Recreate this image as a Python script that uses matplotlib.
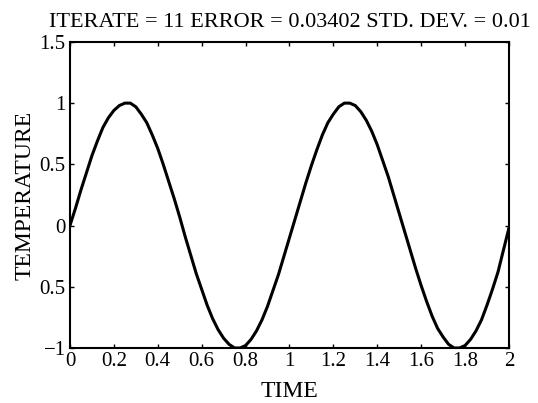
import numpy as np
import matplotlib
matplotlib.use("Agg")
import matplotlib.pyplot as plt

time = [0.000, 0.025, 0.050, 0.075, 0.100, 0.125, 0.150, 0.175, 0.200, 0.225,
        0.250, 0.275, 0.300, 0.325, 0.350, 0.375, 0.400, 0.425, 0.450, 0.475,
        0.500, 0.525, 0.550, 0.575, 0.600, 0.625, 0.650, 0.675, 0.700, 0.725,
        0.750, 0.775, 0.800, 0.825, 0.850, 0.875, 0.900, 0.925, 0.950, 0.975,
        1.000, 1.025, 1.050, 1.075, 1.100, 1.125, 1.150, 1.175, 1.200, 1.225,
        1.250, 1.275, 1.300, 1.325, 1.350, 1.375, 1.400, 1.425, 1.450, 1.475,
        1.500, 1.525, 1.550, 1.575, 1.600, 1.625, 1.650, 1.675, 1.700, 1.725,
        1.750, 1.775, 1.800, 1.825, 1.850, 1.875, 1.900, 1.925, 1.950, 1.975,
        2.000]
temperature = [0.00, 0.14, 0.29, 0.43, 0.57, 0.69, 0.80, 0.88, 0.94, 0.98,
               1.00, 1.00, 0.97, 0.91, 0.84, 0.74, 0.63, 0.50, 0.36, 0.22,
               0.07, -0.09, -0.24, -0.39, -0.52, -0.65, -0.76, -0.85, -0.92, -0.97,
               -1.00, -1.00, -0.98, -0.93, -0.86, -0.77, -0.66, -0.53, -0.40, -0.25,
               -0.10, 0.05, 0.20, 0.35, 0.49, 0.62, 0.74, 0.84, 0.91, 0.97,
               1.00, 1.00, 0.98, 0.93, 0.86, 0.77, 0.66, 0.53, 0.40, 0.25,
               0.10, -0.05, -0.20, -0.35, -0.49, -0.62, -0.74, -0.84, -0.91, -0.97,
               -1.00, -1.00, -0.98, -0.93, -0.86, -0.77, -0.65, -0.52, -0.38, -0.20,
               -0.02]

xticks = [0, 0.2, 0.4, 0.6, 0.8, 1, 1.2, 1.4, 1.6, 1.8, 2]
xlabels = ["0", "0.2", "0.4", "0.6", "0.8", "1", "1.2", "1.4", "1.6", "1.8", "2"]
yticks = [-1, -0.5, 0, 0.5, 1, 1.5]
ylabels = ["\u22121", "0.5", "0", "0.5", "1", "1.5"]

plt.rcParams['font.family'] = ['Liberation Serif', 'DejaVu Serif']

fig = plt.figure(figsize=(5.38, 4.03), dpi=100)
ax = fig.add_axes([0.130, 0.1365, 0.816, 0.7595])

ax.plot(time, temperature, color="black", linewidth=2.2)

ax.set_xlim(0, 2)
ax.set_ylim(-1, 1.5)
ax.set_xticks(xticks)
ax.set_xticklabels(xlabels)
ax.set_yticks(yticks)
ax.set_yticklabels(ylabels)
ax.tick_params(direction="in", length=3, width=1, labelsize=15,
               top=True, right=True, pad=3)
for s in ax.spines.values():
    s.set_linewidth(1.5)

ax.set_xlabel("TIME", fontsize=17, labelpad=7)
ax.set_ylabel("TEMPERATURE", fontsize=17, labelpad=3)
ax.set_title("ITERATE = 11 ERROR = 0.03402 STD. DEV. = 0.01", fontsize=16, pad=11)

fig.savefig("out.png", dpi=100)
